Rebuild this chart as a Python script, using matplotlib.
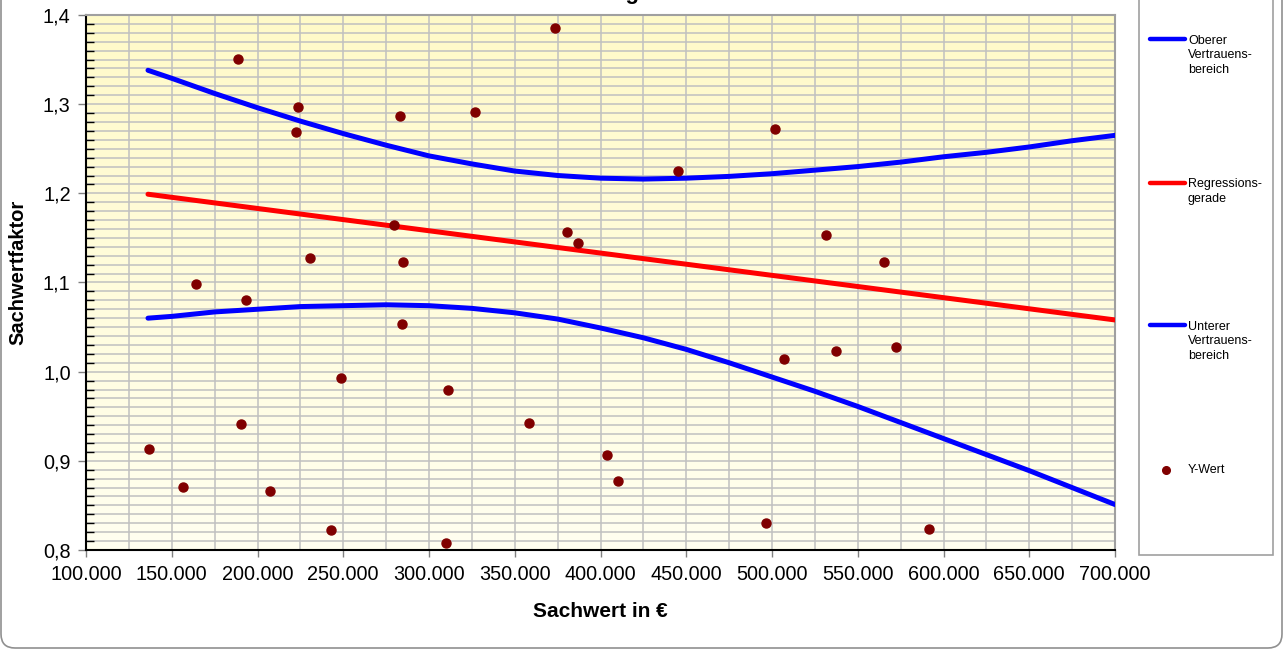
import numpy as np
import matplotlib
matplotlib.use("Agg")
import matplotlib.pyplot as plt
from matplotlib.ticker import MultipleLocator, FuncFormatter
from matplotlib.patches import Rectangle, FancyBboxPatch
from matplotlib.lines import Line2D

plt.rcParams['font.family'] = ['Liberation Sans', 'DejaVu Sans']

# ---------------- data ----------------
sachwert = [136700, 156560, 164140, 188630, 190380, 193300, 207290, 222450, 223620,
            230620, 242860, 248690, 279600, 283090, 284840, 284260, 309920, 311080,
            326830, 358310, 373470, 380470, 386880, 403790, 410200, 445190, 496500,
            501750, 507000, 531490, 537320, 565310, 572310, 591550]
faktor = [0.913, 0.871, 1.098, 1.351, 0.941, 1.080, 0.866, 1.269, 1.297,
          1.127, 0.822, 0.993, 1.164, 1.287, 1.123, 1.054, 0.808, 0.979,
          1.291, 0.942, 1.385, 1.157, 1.144, 0.907, 0.877, 1.225, 0.830,
          1.272, 1.014, 1.153, 1.023, 1.123, 1.028, 0.824]

reg_x = [136150, 700000]
reg_y = [1.199, 1.058]

band_x = [136150, 150000, 175000, 200000, 225000, 250000, 275000, 300000,
          325000, 350000, 375000, 400000, 425000, 450000, 475000, 500000,
          525000, 550000, 575000, 600000, 625000, 650000, 675000, 700000]
upper = [1.338, 1.329, 1.312, 1.296, 1.281, 1.267, 1.254, 1.242,
         1.233, 1.225, 1.220, 1.217, 1.216, 1.217, 1.219, 1.222,
         1.226, 1.230, 1.235, 1.241, 1.246, 1.252, 1.259, 1.265]
lower = [1.060, 1.062, 1.067, 1.070, 1.073, 1.074, 1.075, 1.074,
         1.071, 1.066, 1.059, 1.049, 1.038, 1.025, 1.010, 0.994,
         0.978, 0.961, 0.943, 0.925, 0.907, 0.889, 0.870, 0.851]

legend_labels = ["Oberer\nVertrauens-\nbereich", "Regressions-\ngerade",
                 "Unterer\nVertrauens-\nbereich", "Y-Wert"]
title_text = "Regression"
xlabel = "Sachwert in €"
ylabel = "Sachwertfaktor"

BLUE = "#0000FF"
RED = "#FF0000"
DOT = "#800000"
GRID = "#C0C0C0"

W, H = 1286, 651
fig = plt.figure(figsize=(W / 100, H / 100), dpi=100)
fig.patch.set_facecolor("white")

ax = fig.add_axes([86 / W, 1 - 550 / H, (1115 - 86) / W, (550 - 15) / H])

# gradient background
grad = np.linspace(0, 1, 256).reshape(-1, 1)
top_c = np.array([255, 250, 200]) / 255
bot_c = np.array([255, 255, 240]) / 255
img = top_c[None, None, :] * (1 - grad[:, :, None]) + bot_c[None, None, :] * grad[:, :, None]
ax.imshow(img, extent=[0, 1, 0, 1], transform=ax.transAxes, aspect="auto", zorder=0)

ax.set_xlim(100000, 700000)
ax.set_ylim(0.8, 1.4)

# grid
ax.xaxis.set_major_locator(MultipleLocator(50000))
ax.xaxis.set_minor_locator(MultipleLocator(25000))
ax.yaxis.set_major_locator(MultipleLocator(0.1))
ax.yaxis.set_minor_locator(MultipleLocator(0.01))
ax.set_axisbelow(True)
ax.grid(True, which="both", axis="both", color=GRID, linewidth=1.1)

ax.xaxis.set_major_formatter(FuncFormatter(lambda v, p: f"{int(round(v)):,}".replace(",", ".")))
ax.yaxis.set_major_formatter(FuncFormatter(lambda v, p: f"{v:.1f}".replace(".", ",")))

ax.tick_params(axis="x", which="major", direction="out", length=5, width=1, labelsize=14.3, pad=6, color="#808080")
ax.tick_params(axis="x", which="minor", length=0)
ax.tick_params(axis="y", which="major", direction="out", length=6, width=1, labelsize=14.3, pad=5, color="#808080")
ax.tick_params(axis="y", which="minor", direction="in", length=6, width=1, color="black")

for s in ["left", "bottom"]:
    ax.spines[s].set_color("black")
    ax.spines[s].set_linewidth(1.5)
for s in ["top", "right"]:
    ax.spines[s].set_color("#A0A0A0")
    ax.spines[s].set_linewidth(1.5)

# data
ax.plot(band_x, upper, color=BLUE, lw=3.6, solid_capstyle="round", solid_joinstyle="round", zorder=3)
ax.plot(reg_x, reg_y, color=RED, lw=3.6, solid_capstyle="round", zorder=3)
ax.plot(band_x, lower, color=BLUE, lw=3.6, solid_capstyle="round", solid_joinstyle="round", zorder=3)
ax.plot(sachwert, faktor, linestyle="none", marker="o", markersize=6.5,
        markerfacecolor=DOT, markeredgecolor=DOT, zorder=4)

ax.set_xlabel(xlabel, fontsize=15, fontweight="bold", labelpad=13)
ax.set_ylabel(ylabel, fontsize=14.5, fontweight="bold")
ax.yaxis.set_label_coords((27 - 86) / 1029, (550 - 272) / 535)

# overlay in pixel coordinates for legend, frame and title
ov = fig.add_axes([0, 0, 1, 1], zorder=5)
ov.set_xlim(0, W)
ov.set_ylim(H, 0)
ov.axis("off")
ov.patch.set_alpha(0)

# chart frame (rounded)
frame = FancyBboxPatch((1, -40), 1281, 688, boxstyle="round,pad=0,rounding_size=14",
                       facecolor="none", edgecolor="#909090", lw=1.2)
ov.add_patch(frame)

# legend box
ov.add_patch(Rectangle((1139, -10), 134, 565, facecolor="white", edgecolor="#A0A0A0", lw=1.2, zorder=1))

ly = [39, 183, 325]
lcol = [BLUE, RED, BLUE]
for y, c, lab in zip(ly, lcol, legend_labels[:3]):
    ov.add_line(Line2D([1150, 1185], [y, y], color=c, lw=3.2, solid_capstyle="round", zorder=2))
    ov.text(1188, y - 4.5, lab, fontsize=9, va="top", ha="left", linespacing=1.3, zorder=2)
ov.add_line(Line2D([1166], [470], marker="o", markersize=5.5, color=DOT, linestyle="none", zorder=2))
ov.text(1188, 470, legend_labels[3], fontsize=9, va="center", ha="left", zorder=2)

# title (mostly above the visible area)
fig.text(658 / W, 1 + 1.5 / H, title_text, fontsize=16, fontweight="bold",
         ha="center", va="baseline")

fig.savefig("out.png", dpi=100, facecolor="white")
